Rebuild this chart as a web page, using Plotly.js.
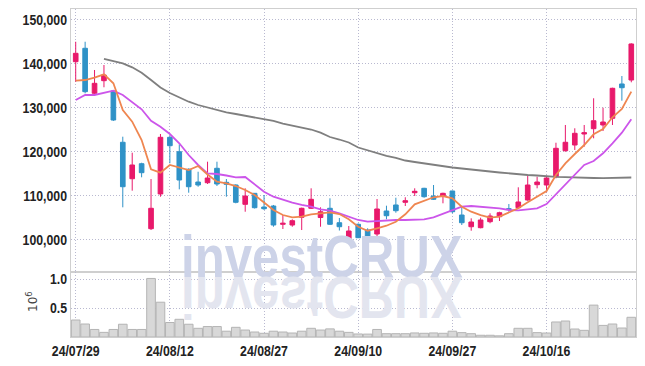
<!DOCTYPE html>
<html>
<head>
<meta charset="utf-8">
<script src="https://cdn.plot.ly/plotly-3.0.1.min.js"></script>
<style>
html,body{margin:0;padding:0;background:#fff;}
#chart{width:645px;height:366px;}
g.annotation[data-index="0"] text.annotation-text{transform:scaleX(0.82);transform-box:fill-box;transform-origin:center;}
g.annotation[data-index="1"] text.annotation-text{transform:scale(0.82,-1);transform-box:fill-box;transform-origin:center;}
</style>
</head>
<body>
<div id="chart"></div>
<script>
const dates = ['24/07/29','24/07/30','24/07/31','24/08/01','24/08/02','24/08/05','24/08/06','24/08/07','24/08/08','24/08/09',
'24/08/12','24/08/13','24/08/14','24/08/16','24/08/19','24/08/20','24/08/21','24/08/22','24/08/23','24/08/26',
'24/08/27','24/08/28','24/08/29','24/08/30','24/09/02','24/09/03','24/09/04','24/09/05','24/09/06','24/09/09',
'24/09/10','24/09/11','24/09/12','24/09/13','24/09/19','24/09/20','24/09/23','24/09/24','24/09/25','24/09/26',
'24/09/27','24/09/30','24/10/02','24/10/04','24/10/07','24/10/08','24/10/10','24/10/11','24/10/14','24/10/15',
'24/10/16','24/10/17','24/10/18','24/10/21','24/10/22','24/10/23','24/10/24','24/10/25','24/10/28','24/10/29'];

const openP = [140360,143410,133180,136050,133700,122050,113770,117180,102410,110300,
123180,119910,115910,113020,112860,116140,112950,112340,107950,110450,
107340,107570,103410,103250,105000,107050,104950,107050,103770,100000,
103410,102110,101200,106430,107800,108410,110590,111590,109840,109840,
110980,105520,102860,102640,104000,105140,106950,107180,108930,112410,
112340,114230,120140,121430,123930,125140,125980,127500,135300,136200];
const highP = [144900,144900,138480,139610,133800,123320,119680,117400,113700,123930,
123480,121590,116140,115360,117640,117640,113700,112500,111590,110500,
110070,107800,105520,104550,107200,111590,107270,109320,104840,103020,
103590,102500,109160,107640,109450,109550,111590,111700,112340,110590,
111050,107570,104770,104910,105910,106270,108020,111820,114450,114230,
114450,121950,125980,125230,125980,132050,129910,134450,137110,144550];
const lowP = [135800,133180,132570,134550,126900,107270,111050,114090,102110,109680,
117270,111360,110590,111950,112570,112110,109680,108180,106270,107000,
106660,102860,102340,102860,102110,106890,102860,103250,102000,99450,
100300,99950,100750,104550,106050,107570,109840,109450,108930,108180,
105910,103250,101950,102500,103640,104160,106270,107050,108770,111590,
110680,113860,119910,120300,121050,122950,124610,125980,131500,135680];
const closeP = [142270,133550,135450,137340,127110,111950,116890,115140,107050,123180,
121270,113480,111950,112340,113930,112570,112500,108410,109840,107180,
106950,103250,103640,104230,107050,109090,106270,103410,102860,101890,
100360,100070,106890,105360,106500,108770,110910,109680,109090,110450,
106270,103770,103930,104390,105300,106050,106820,108480,112340,113020,
113930,120680,122050,124090,124230,126950,126660,134320,134450,144390];

// volume in millions of shares
const volume = [0.293,0.224,0.13,0.08,0.13,0.22,0.13,0.13,1.01,0.60,
0.25,0.305,0.22,0.15,0.18,0.18,0.10,0.167,0.12,0.086,
0.064,0.10,0.086,0.069,0.10,0.15,0.12,0.14,0.10,0.08,
0.052,0.05,0.13,0.057,0.057,0.057,0.07,0.064,0.07,0.064,
0.10,0.075,0.057,0.03,0.03,0.02,0.057,0.15,0.15,0.075,
0.069,0.259,0.276,0.138,0.115,0.55,0.20,0.224,0.155,0.34];

const maShort = [136050,136200,136730,137500,135450,129390,126730,122570,115910,115140,
116890,116360,115750,116660,114730,113090,112730,112110,111200,110070,
108320,106660,105520,105000,105140,105680,105910,106140,105750,104550,
102860,101950,102500,103090,104000,105680,107950,108770,109550,109840,
109320,107410,106270,105520,104950,105140,106050,107050,108410,109680,
110980,114610,117270,119390,121430,123860,125070,127730,129610,133550];
const maMid = [131660,132800,132800,133320,133770,132800,131270,129550,126950,125590,
123930,121820,119160,116890,115000,114840,114500,114090,114160,112450,
110820,109680,108930,108320,107800,107410,106820,106500,105910,105070,
104390,104000,104160,104390,104390,104390,104390,104550,105000,105750,
106660,107410,107570,107410,107340,107050,106660,106590,106820,107050,
108020,110180,112450,114500,116890,117800,119550,121820,124230,127270];
const maLong = [null,null,null,140980,140520,140000,139090,137860,136200,134500,
133250,132180,131270,130520,129910,129320,128860,128480,128090,127800,
127450,126890,126270,125800,125410,124950,124230,123250,122680,122000,
120860,120230,119550,118980,118480,117910,117570,117230,116930,116590,
116320,116090,115910,115680,115410,115180,114950,114770,114610,114500,
114270,114200,114110,114000,113980,113930,113890,113930,113980,114050];

const priceTicks = [100000,110000,120000,130000,140000,150000];
const volTicks = [0.5,1.0];
const dateTicks = [dates[0],dates[10],dates[20],dates[30],dates[40],dates[50]];

const UP = '#e8196b', DOWN = '#2f92c7';
const tickFont = {family:'"Liberation Sans",Arial,sans-serif', size:15, weight:'bold', color:'#222'};
const gridC = '#b9b9d0';
const gridDash = '1px,2px';
const lineC = '#cfcfcf';

const traces = [
  {type:'candlestick', x:dates, open:openP, high:highP, low:lowP, close:closeP,
   xaxis:'x', yaxis:'y', whiskerwidth:0,
   increasing:{line:{color:UP,width:1}, fillcolor:UP},
   decreasing:{line:{color:DOWN,width:1}, fillcolor:DOWN},
   hoverinfo:'skip', showlegend:false},
  {type:'scatter', mode:'lines', x:dates, y:maLong, xaxis:'x', yaxis:'y', line:{color:'#7f7f7f',width:1.8}, showlegend:false, hoverinfo:'skip'},
  {type:'scatter', mode:'lines', x:dates, y:maMid, xaxis:'x', yaxis:'y', line:{color:'#cc55ea',width:1.8}, showlegend:false, hoverinfo:'skip'},
  {type:'scatter', mode:'lines', x:dates, y:maShort, xaxis:'x', yaxis:'y', line:{color:'#ef8650',width:1.8}, showlegend:false, hoverinfo:'skip'},
  {type:'bar', x:dates, y:volume, xaxis:'x2', yaxis:'y2', marker:{color:'#d8d8d8', line:{color:'#b4b4b4', width:1}}, showlegend:false, hoverinfo:'skip'}
];

const volFrac = 65/328;
const wmFont = {family:'"Liberation Sans",Arial,sans-serif', size:60, weight:'bold'};
const layout = {
  width:645, height:366,
  margin:{l:71, r:9, t:9, b:29},
  paper_bgcolor:'#fff', plot_bgcolor:'#fff',
  showlegend:false, bargap:0.08,
  xaxis:{type:'category', domain:[0,1], anchor:'y', matches:'x2', range:[-0.5,59.5],
    rangeslider:{visible:false}, tickmode:'array', tickvals:dateTicks, showticklabels:false,
    showgrid:true, gridcolor:gridC, griddash:gridDash, gridwidth:1,
    showline:true, mirror:true, linecolor:lineC, linewidth:1, ticks:'', zeroline:false},
  yaxis:{domain:[volFrac,1], anchor:'x', range:[92570,152340], tickmode:'array', tickvals:priceTicks,
    tickformat:',d', tickfont:tickFont, showgrid:true, gridcolor:gridC, griddash:gridDash, gridwidth:1,
    showline:true, mirror:true, linecolor:lineC, linewidth:1, ticks:'', zeroline:false, fixedrange:true},
  xaxis2:{type:'category', domain:[0,1], anchor:'y2', range:[-0.5,59.5],
    tickmode:'array', tickvals:dateTicks, ticktext:dateTicks, tickfont:tickFont, tickangle:0,
    showgrid:true, gridcolor:gridC, griddash:gridDash, gridwidth:1,
    showline:true, mirror:true, linecolor:lineC, linewidth:1, ticks:'', zeroline:false},
  yaxis2:{domain:[0,volFrac], anchor:'x2', range:[0,1.121], tickmode:'array', tickvals:volTicks,
    tickformat:'.1f', tickfont:tickFont, showgrid:true, gridcolor:gridC, griddash:gridDash, gridwidth:1,
    showline:true, mirror:true, linecolor:lineC, linewidth:1, ticks:'', zeroline:false},
  annotations:[
    {text:'investCRUX', xref:'paper', yref:'paper', x:0.4425, y:0.245, xanchor:'center', yanchor:'middle',
     showarrow:false, font:Object.assign({color:'#cdd3e8'}, wmFont)},
    {text:'investCRUX', xref:'paper', yref:'paper', x:0.4425, y:0.117, xanchor:'center', yanchor:'middle',
     showarrow:false, font:Object.assign({color:'#e3e5ef'}, wmFont)},
    {text:'10<sup>6</sup>', xref:'paper', yref:'paper', x:(32-71)/565, y:(337-302)/328, xanchor:'center', yanchor:'middle',
     showarrow:false, textangle:-90, font:{family:'"DejaVu Sans",sans-serif', size:12, color:'#444'}}
  ]
};

Plotly.newPlot('chart', traces, layout, {displayModeBar:false, staticPlot:true}).then(function(gd){
  // narrow the tick label glyphs horizontally, keeping each label's anchor point fixed
  gd.querySelectorAll('g.ytick text, g.y2tick text, g.x2tick text').forEach(function(t){
    const tx = parseFloat(t.getAttribute('x')) || 0;
    const orig = t.getAttribute('transform') || '';
    t.setAttribute('transform', orig + ' translate(' + tx + ',0) scale(0.82,1) translate(' + (-tx) + ',0)');
  });
});
</script>
</body>
</html>
